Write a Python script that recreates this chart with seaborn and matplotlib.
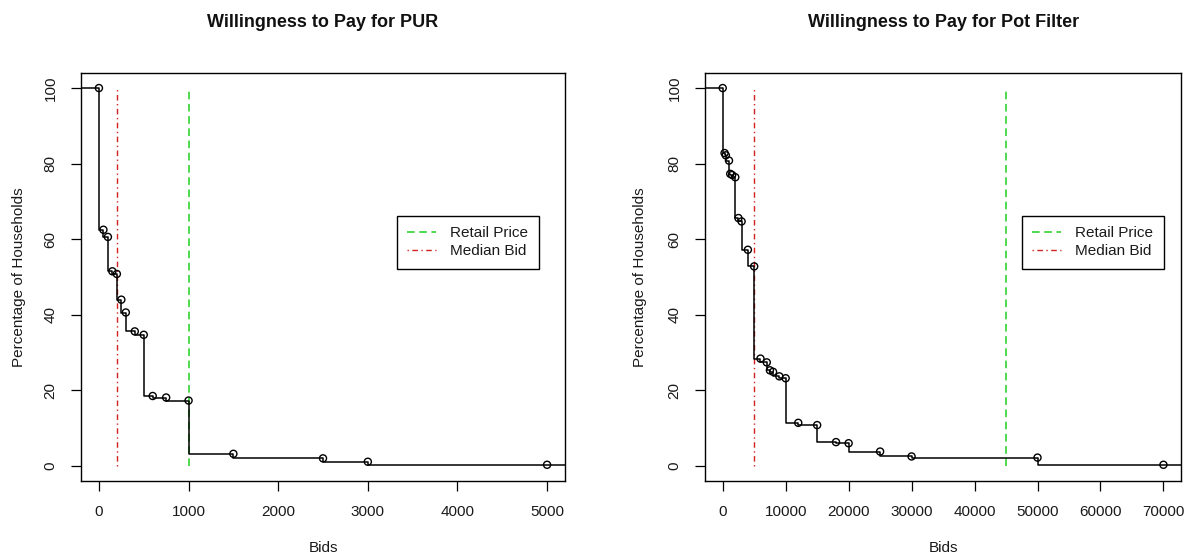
import matplotlib
matplotlib.use("Agg")
import matplotlib.pyplot as plt
import seaborn as sns
import pandas as pd

# ---- data ----
pur_bids = [0, 50, 100, 150, 200, 250, 300, 400, 500, 600, 750, 1000, 1500, 2500, 3000, 5000]
pur_pct = [100, 62.5, 60.6, 51.5, 50.8, 44.0, 40.6, 35.6, 34.7, 18.5, 18.1, 17.3, 3.2, 2.0, 1.1, 0.3]
pur_retail = 1000
pur_median = 200

pot_bids = [0, 300, 500, 1000, 1200, 1500, 2000, 2500, 3000, 4000, 5000, 6000, 7000,
            7500, 8000, 9000, 10000, 12000, 15000, 18000, 20000, 25000, 30000, 50000, 70000]
pot_pct = [100, 82.8, 82.2, 80.8, 77.3, 77.0, 76.4, 65.6, 64.7, 57.2, 52.8, 28.4, 27.4,
           25.3, 24.9, 23.7, 23.2, 11.4, 10.8, 6.3, 6.0, 3.8, 2.5, 2.2, 0.3]
pot_retail = 45000
pot_median = 5000

titles = ["Willingness to Pay for PUR", "Willingness to Pay for Pot Filter"]
xlabel = "Bids"
ylabel = "Percentage of Households"
legend_labels = ["Retail Price", "Median Bid"]
pur_xticks = [0, 1000, 2000, 3000, 4000, 5000]
pot_xticks = [0, 10000, 20000, 30000, 40000, 50000, 60000, 70000]
yticks = [0, 20, 40, 60, 80, 100]

sns.set_theme(style="ticks")
plt.rcParams["font.family"] = ["Liberation Sans", "DejaVu Sans"]

GREEN = "#1fd01f"
RED = "#d42020"
TXT = "#1a1a1a"
FS = 11

fig = plt.figure(figsize=(11.93, 5.59), dpi=100)
ax1 = fig.add_axes([0.0679, 0.1395, 0.4057, 0.730])
ax2 = fig.add_axes([0.591, 0.1395, 0.399, 0.730])

configs = [
    (ax1, pur_bids, pur_pct, pur_retail, pur_median, pur_xticks, titles[0], 0.946, -0.114),
    (ax2, pot_bids, pot_pct, pot_retail, pot_median, pot_xticks, titles[1], 0.964, -0.122),
]

for ax, bids, pct, retail, median, xt, title, legx, ylx in configs:
    span = max(bids) - min(bids)
    xlo, xhi = min(bids) - 0.04 * span, max(bids) + 0.04 * span
    ext = pd.DataFrame({"x": [xlo] + bids + [xhi], "y": [pct[0]] + pct + [pct[-1]]})
    df = pd.DataFrame({"x": bids, "y": pct})
    sns.lineplot(data=ext, x="x", y="y", ax=ax, drawstyle="steps-pre", color="black",
                 linewidth=1.1, estimator=None, sort=False, zorder=2)
    sns.scatterplot(data=df, x="x", y="y", ax=ax, marker="o", s=26, facecolor="none",
                    edgecolor="black", linewidth=1.0, zorder=3)
    ax.plot([retail, retail], [0, 100], color=GREEN, linewidth=1.1,
            linestyle=(0, (5, 3)), label=legend_labels[0], zorder=1)
    ax.plot([median, median], [0, 100], color=RED, linewidth=1.0,
            linestyle=(0, (1, 2.5, 4, 2.5)), label=legend_labels[1], zorder=1)
    ax.set_xlim(xlo, xhi)
    ax.set_ylim(-4, 104)
    ax.set_xticks(xt)
    ax.set_yticks(yticks)
    ax.set_xticklabels([str(v) for v in xt])
    ax.set_yticklabels([str(v) for v in yticks], rotation=90, va="center")
    ax.tick_params(axis="both", direction="out", length=7, width=0.9, color="black",
                   labelsize=FS, labelcolor=TXT, pad=10)
    for sp in ax.spines.values():
        sp.set_visible(True)
        sp.set_color("black")
        sp.set_linewidth(1.0)
    ax.set_xlabel(xlabel, fontsize=FS, color=TXT)
    ax.set_ylabel(ylabel, fontsize=FS, color=TXT)
    ax.xaxis.set_label_coords(0.5, -0.148)
    ax.yaxis.set_label_coords(ylx, 0.5)
    ax.set_title(title, fontsize=13, fontweight="bold", y=1.112, pad=0, color="#111111")
    leg = ax.legend(loc="center right", bbox_to_anchor=(legx, 0.585), fontsize=FS,
                    frameon=True, fancybox=False, shadow=False, framealpha=1,
                    edgecolor="black", handlelength=1.9, handletextpad=0.9,
                    borderpad=0.7, labelspacing=0.25, borderaxespad=0)
    leg.get_frame().set_linewidth(1.0)
    for t in leg.get_texts():
        t.set_color(TXT)

fig.savefig("out.png", dpi=100, facecolor="white")
